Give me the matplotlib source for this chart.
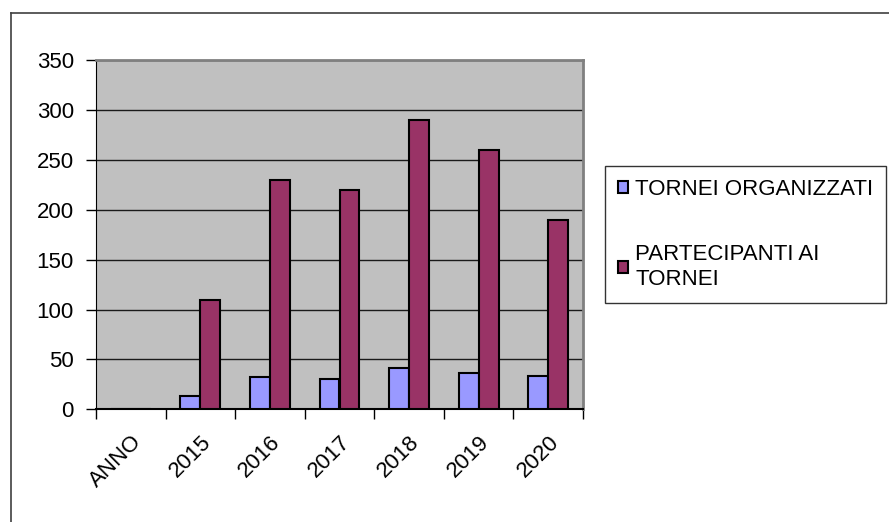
import numpy as np
import matplotlib.pyplot as plt
from matplotlib.lines import Line2D

plt.rcParams['font.family'] = ['Liberation Sans', 'DejaVu Sans']

# --- Data ---
categories = ["ANNO", "2015", "2016", "2017", "2018", "2019", "2020"]
tornei = [0, 13, 32, 30, 41, 36, 33]
partecipanti = [0, 110, 230, 220, 290, 260, 190]
labels = ["TORNEI ORGANIZZATI", "PARTECIPANTI AI\nTORNEI"]

c_blue = "#9999FF"
c_red = "#993366"
FS = 16

fig = plt.figure(figsize=(8.89, 5.22), dpi=100)
ax = fig.add_axes([96 / 889, 1 - 409.3 / 522, 487 / 889, 349.3 / 522])

x = np.arange(len(categories))
w = 1 / 3.5
b1 = ax.bar(x - w / 2, tornei, w, color=c_blue, edgecolor="black", lw=1.5, zorder=3)
b2 = ax.bar(x + w / 2, partecipanti, w, color=c_red, edgecolor="black", lw=1.5, zorder=3)

ax.set_facecolor("#C0C0C0")
ax.set_xlim(-0.5, len(categories) - 0.5)
ax.set_ylim(0, 350)
ax.set_yticks(range(0, 351, 50))
ax.yaxis.grid(True, color="#1a1a1a", lw=1.0, zorder=1)
ax.set_axisbelow(True)

# category ticks between groups, labels at centres
ax.set_xticks(x)
ax.set_xticklabels(categories, rotation=45, ha="right", rotation_mode="anchor")
ax.set_xticks(np.arange(-0.5, len(categories)), minor=True)
ax.tick_params(axis="x", which="major", length=0, pad=16, labelsize=FS)
ax.tick_params(axis="x", which="minor", length=7, width=1, direction="out")
ax.tick_params(axis="y", length=7, width=1, pad=9, labelsize=FS)

for s in ("top", "right"):
    ax.spines[s].set_color("#808080")
    ax.spines[s].set_linewidth(2)
ax.spines["left"].set_color("black")
ax.spines["bottom"].set_color("black")
ax.spines["bottom"].set_linewidth(1.5)

leg = fig.legend([b1, b2], labels, loc="upper left",
                 bbox_to_anchor=(605 / 889, 1 - 165.7 / 522),
                 fontsize=FS, frameon=True, fancybox=False, edgecolor="black",
                 handlelength=0.45, handleheight=0.45, handletextpad=0.3,
                 labelspacing=2.0, borderpad=0.6, borderaxespad=0)
leg.get_frame().set_linewidth(1)

# chart-area border (top and left edges visible in the crop)
fig.add_artist(Line2D([11 / 889, 1], [1 - 13 / 522] * 2, color="#404040", lw=1.2))
fig.add_artist(Line2D([11 / 889] * 2, [0, 1 - 13 / 522], color="#404040", lw=1.2))

fig.savefig("out.png", dpi=100)
